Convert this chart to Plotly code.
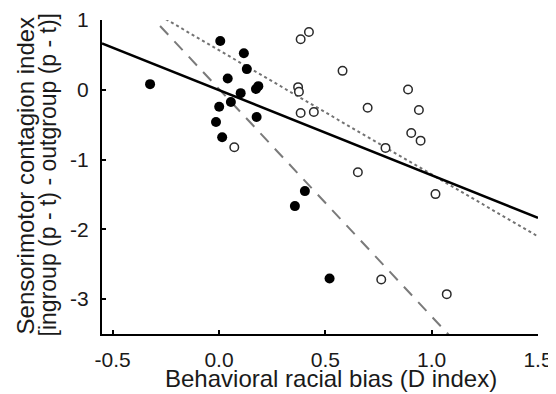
import numpy as np
import plotly.graph_objects as go

# Filled circles (group 1)
filled_x = [-0.324, 0.006, 0.117, 0.131, 0.041, 0.102, 0.174, 0.185, 0.001, 0.056,
            0.177, -0.014, 0.015, 0.404, 0.357, 0.520]
filled_y = [0.081, 0.700, 0.524, 0.296, 0.162, -0.048, 0.010, 0.052, -0.243, -0.176,
            -0.390, -0.462, -0.681, -1.452, -1.667, -2.705]

# Open circles (group 2)
open_x = [0.384, 0.423, 0.372, 0.376, 0.384, 0.446, 0.072, 0.581, 0.889, 0.699,
          0.940, 0.904, 0.948, 0.783, 0.653, 1.018, 0.763, 1.071]
open_y = [0.724, 0.829, 0.038, -0.029, -0.333, -0.319, -0.824, 0.271, 0.004, -0.257,
          -0.290, -0.619, -0.729, -0.833, -1.181, -1.495, -2.719, -2.929]

# Regression lines: slope, intercept, x extent
fit_all_coef = (-1.22, -0.005)
fit_all_x = [-0.55, 1.5]
fit_open_coef = (-1.78, 0.567)
fit_open_x = [-0.25, 1.5]
fit_filled_coef = (-3.26, 0.011)
fit_filled_x = [-0.277, 1.09]

x_tick_vals = [-0.5, 0.0, 0.5, 1.0, 1.5]
x_tick_text = ["-0.5", "0.0", "0.5", "1.0", "1.5"]
y_tick_vals = [-3, -2, -1, 0, 1]
y_tick_text = ["-3", "-2", "-1", "0", "1"]

FONT = "Liberation Sans, Arial, sans-serif"
# the page body has an 8px margin; compensate so the plot lands where intended
BODY = 8
L, R, T, B = 102 - BODY, 18, 20 - BODY, 60
W, H = 556 - BODY, 394 - BODY
PW, PH = W - L - R, H - T - B
PX0, PY1 = 102, 334  # plot-area left / bottom in page pixels


def line_pts(coef, xs):
    xs = np.array(xs, dtype=float)
    return xs, coef[0] * xs + coef[1]


fig = go.Figure()

lx, ly = line_pts(fit_filled_coef, fit_filled_x)
fig.add_trace(go.Scatter(x=lx, y=ly, mode="lines",
                         line=dict(color="#7a7a7a", width=2, dash="12px,9px"),
                         showlegend=False, hoverinfo="skip"))
lx, ly = line_pts(fit_open_coef, fit_open_x)
fig.add_trace(go.Scatter(x=lx, y=ly, mode="lines",
                         line=dict(color="#737373", width=2, dash="3px,3px"),
                         showlegend=False, hoverinfo="skip"))
lx, ly = line_pts(fit_all_coef, fit_all_x)
fig.add_trace(go.Scatter(x=lx, y=ly, mode="lines",
                         line=dict(color="black", width=2.5),
                         showlegend=False, hoverinfo="skip"))

fig.add_trace(go.Scatter(x=open_x, y=open_y, mode="markers",
                         marker=dict(size=8.5, color="white",
                                     line=dict(color="#2a2a2a", width=1.5)),
                         showlegend=False))
fig.add_trace(go.Scatter(x=filled_x, y=filled_y, mode="markers",
                         marker=dict(size=10, color="black",
                                     line=dict(width=0)),
                         showlegend=False))

axis_common = dict(showgrid=False, zeroline=False, showline=True, automargin=False,
                   linecolor="black", linewidth=2, ticks="inside",
                   ticklen=4, tickwidth=2, tickcolor="black",
                   tickfont=dict(family=FONT, size=21, color="#1a1a1a"))

fig.update_xaxes(range=[-0.55, 1.5], tickvals=x_tick_vals, ticktext=x_tick_text,
                 ticklabelstandoff=6, **axis_common)
fig.update_yaxes(range=[-3.5, 1], tickvals=y_tick_vals, ticktext=y_tick_text,
                 ticklabelstandoff=7, **axis_common)

fig.update_layout(
    template="none",
    width=W, height=H,
    margin=dict(l=L, r=R, t=T, b=B, pad=0, autoexpand=False),
    plot_bgcolor="white", paper_bgcolor="white",
    font=dict(family=FONT, color="#1a1a1a"),
    annotations=[
        dict(text="Behavioral racial bias (D index)", xref="paper", yref="paper",
             x=(331 - PX0) / PW, y=(PY1 - 378) / PH, xanchor="center", yanchor="middle",
             showarrow=False, font=dict(family=FONT, size=24, color="#1a1a1a")),
        dict(text="Sensorimotor contagion index", xref="paper", yref="paper",
             x=(25 - PX0) / PW, y=0.505, xanchor="center", yanchor="middle",
             textangle=-90, showarrow=False,
             font=dict(family=FONT, size=24, color="#1a1a1a")),
        dict(text="[ingroup (p - t) - outgroup (p - t)]", xref="paper", yref="paper",
             x=(48 - PX0) / PW, y=0.505, xanchor="center", yanchor="middle",
             textangle=-90, showarrow=False,
             font=dict(family=FONT, size=23, color="#1a1a1a")),
    ],
)

fig.write_html("out.html")
